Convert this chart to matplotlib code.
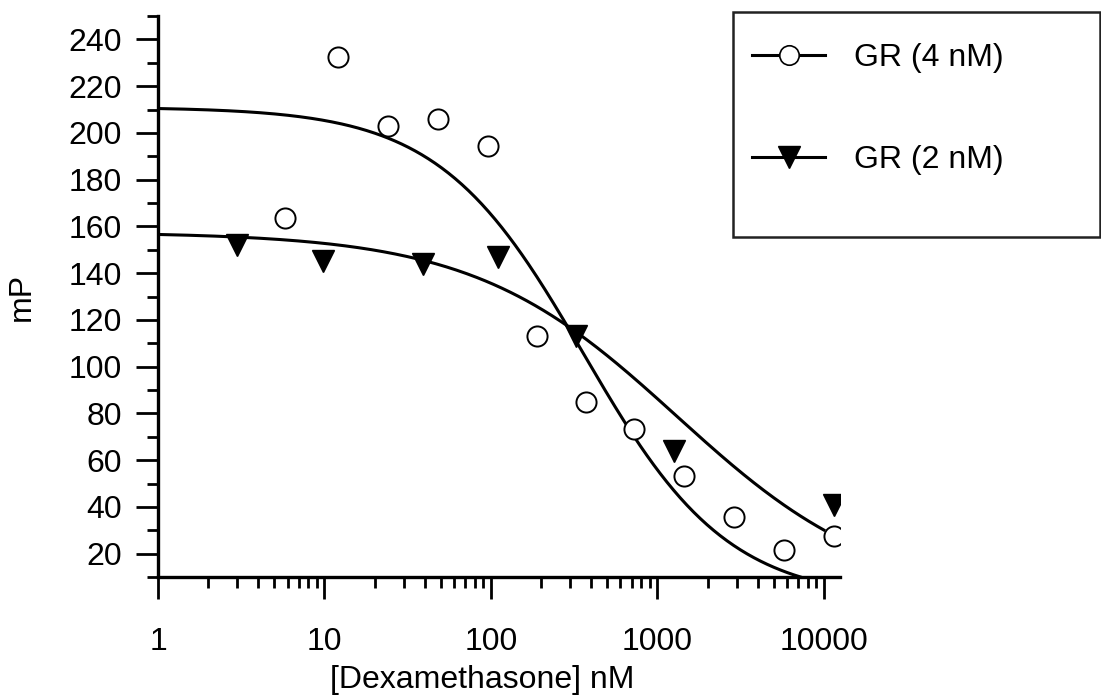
import matplotlib.pyplot as plt
import numpy as np
from matplotlib.patches import Rectangle
from matplotlib.ticker import FixedLocator, FixedFormatter, LogLocator, MultipleLocator, NullFormatter

plt.rcParams['font.family'] = ['Liberation Sans', 'DejaVu Sans']

# --- Data ----------------------------------------------------------------
# GR (4 nM): open circles
dex_4nM = [5.8, 12.0, 24, 48, 96, 190, 370, 720, 1440, 2880, 5760, 11500]
mp_4nM = [163.5, 232.5, 203, 206, 194.5, 113, 85, 73.5, 53, 35.5, 21.5, 27.5]

# GR (2 nM): filled down-triangles
dex_2nM = [3.0, 9.8, 39, 110, 325, 1250, 11500]
mp_2nM = [152, 145, 144, 147, 113, 64, 41]

# four-parameter logistic fits: top, bottom, IC50, hill
fit_4nM = dict(top=211.0, bottom=0.0, ic50=360.0, hill=1.0)
fit_2nM = dict(top=157.5, bottom=0.0, ic50=1310.0, hill=0.71)

x_ticks = [1, 10, 100, 1000, 10000]
x_ticklabels = ["1", "10", "100", "1000", "10000"]
y_ticks = list(range(20, 241, 20))


def logistic(x, top, bottom, ic50, hill):
    return bottom + (top - bottom) / (1 + (x / ic50) ** hill)


xfit = np.logspace(0, 4.0, 400)

# --- Plot ----------------------------------------------------------------
fig = plt.figure(figsize=(11.01, 6.96), dpi=100)
ax = fig.add_axes([158 / 1101, 1 - 577 / 696, 682 / 1101, 561 / 696])

ax.plot(xfit, logistic(xfit, **fit_4nM), color="black", lw=2.2, zorder=2)
ax.plot(xfit, logistic(xfit, **fit_2nM), color="black", lw=2.2, zorder=2)

ax.plot(dex_4nM, mp_4nM, linestyle="none", marker="o", markersize=14.5,
        markerfacecolor="white", markeredgecolor="black", markeredgewidth=1.4, zorder=3)
ax.plot(dex_2nM, mp_2nM, linestyle="none", marker="v", markersize=16.5,
        markerfacecolor="black", markeredgecolor="black", zorder=3)

ax.set_xscale("log")
ax.set_xlim(1, 12500)
ax.set_ylim(10, 250)

ax.xaxis.set_major_locator(FixedLocator(x_ticks))
ax.xaxis.set_major_formatter(FixedFormatter(x_ticklabels))
ax.xaxis.set_minor_locator(LogLocator(base=10, subs=np.arange(2, 10)))
ax.xaxis.set_minor_formatter(NullFormatter())
ax.yaxis.set_major_locator(FixedLocator(y_ticks))
ax.yaxis.set_minor_locator(MultipleLocator(10))

for side in ("top", "right"):
    ax.spines[side].set_visible(False)
for side in ("left", "bottom"):
    ax.spines[side].set_linewidth(2.4)

ax.tick_params(axis="both", which="major", direction="out", length=16, width=2.0,
               labelsize=23)
ax.tick_params(axis="both", which="minor", direction="out", length=8, width=2.0)
ax.tick_params(axis="y", which="major", pad=10)
ax.tick_params(axis="x", which="major", pad=20)

ax.set_xlabel("[Dexamethasone] nM", fontsize=23)
ax.set_ylabel("mP", fontsize=23)
ax.xaxis.set_label_coords(0.475, -0.157)
ax.yaxis.set_label_coords(-0.178, 0.5)

# legend box (reaches past the axes, cut at the right edge)
fig.patches.append(Rectangle((733 / 1101, 1 - 237 / 696), 367 / 1101, 225 / 696,
                             transform=fig.transFigure, facecolor="white",
                             edgecolor="#222222", linewidth=1.8, zorder=5))
h1, = ax.plot([], [], color="black", lw=2.2, marker="o", markersize=14,
              markerfacecolor="white", markeredgecolor="black", markeredgewidth=1.2)
h2, = ax.plot([], [], color="black", lw=2.2, marker="v", markersize=16,
              markerfacecolor="black", markeredgecolor="black")
leg = fig.legend([h1, h2], ["GR (4 nM)", "GR (2 nM)"], loc="center left",
                 bbox_to_anchor=(752 / 1101, 1 - 109 / 696), frameon=False,
                 fontsize=23, handlelength=2.3, handletextpad=0.9,
                 labelspacing=2.25, borderpad=0, borderaxespad=0, numpoints=1)
leg.set_zorder(6)

fig.savefig("out.png", dpi=100)
